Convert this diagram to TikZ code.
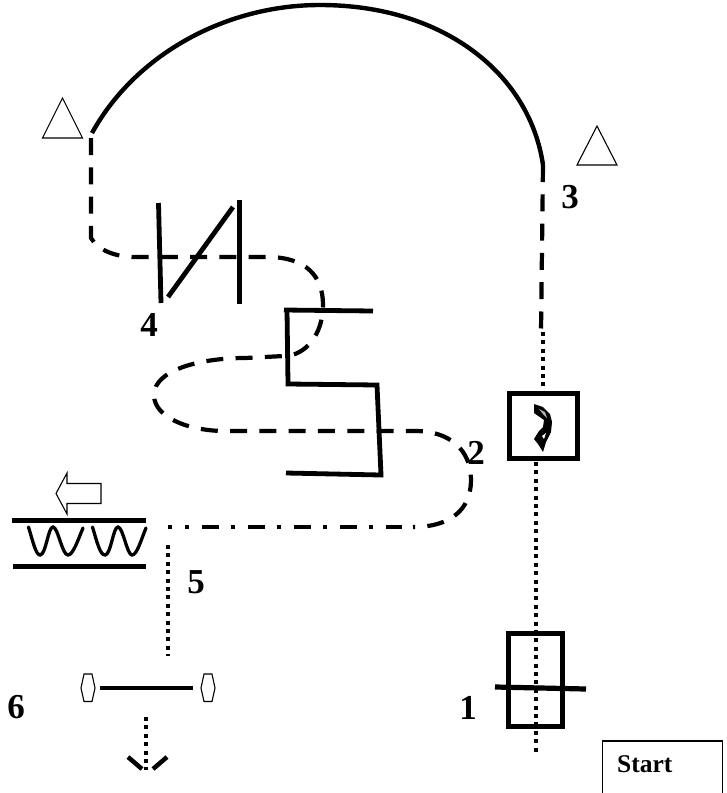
\documentclass[tikz,border=0pt]{standalone}
\usepackage{fontspec}
\setmainfont{Liberation Serif}
\tikzset{
  bar line/.style={line width=4.8pt},
  dash line/.style={line width=4.2pt,dash pattern=on 17pt off 12.3pt},
  dash dot line/.style={line width=4pt,dash pattern=on 17pt off 11.5pt on 4pt off 13.5pt},
  dot line/.style={line width=4pt,dash pattern=on 4pt off 4.4pt},
  thin shape/.style={draw,line width=1.1pt,fill=white},
  lab/.style={font=\bfseries\fontsize{35}{35}\selectfont,inner sep=0pt},
}
\begin{document}
\begin{tikzpicture}[x=1pt,y=-1pt]
\useasboundingbox (0,0) rectangle (727,793);
% dotted verticals
\coordinate (dotA) at (542.5,332);
\coordinate (dotB) at (536,755);
\draw[dot line] (dotA) -- (542.5,392);
\draw[dot line] (536,462) -- (dotB);
\draw[dot line] (168,545) -- (168,656);
\draw[dot line] (146,717) -- (146,770);
% top arc
\coordinate (arcL) at (92,133);
\coordinate (arcR) at (543,165);
\draw[line width=4.4pt] (arcL) .. controls (135,55) and (225,5) .. (320,5)
   .. controls (445,5) and (530,75) .. (arcR);
% dashed lines
\draw[dash line] (arcR) -- (541,332);
\draw[dash line] (91,138) -- (91,238) .. controls (98,250) and (115,257) .. (135,257)
  -- (270,257) .. controls (305,258) and (323,275) .. (323,305)
  .. controls (323,335) and (305,356) .. (284,356)
  -- (245,358) .. controls (200,358) and (154,370) .. (154,395)
  .. controls (154,418) and (190,431) .. (225,431)
  -- (415,431) .. controls (450,431) and (471,450) .. (471,480)
  .. controls (471,510) and (450,527) .. (413,527);
\draw[dash dot line] (202,527) -- (402,527);
\draw[line width=4pt] (168,527) -- (172,527);
\draw[line width=4pt] (185,527) -- (189,527);
% valve at 4
\draw[bar line] (158.5,203) -- (161,303);
\draw[bar line] (239.5,200) -- (239.5,304);
\draw[bar line] (233,207) -- (168,297);
% S shape
\draw[bar line] (373,311) -- (284,310);
\draw[bar line,line join=miter] (287,310) -- (288,384) -- (377,385) -- (381,475) -- (286,473);
% boxes
\node[draw,line width=5pt,minimum width=68pt,minimum height=65pt,inner sep=0pt,outer sep=0pt] (valve) at (543,426) {};
\fill[black] (534,404) -- (543,407) -- (550,414) -- (552,422) -- (551,432) -- (546,442) -- (543,452) -- (538,444) -- (534,439) -- (539,431) -- (543,427) -- (544,420) -- (534,413) -- cycle;
\fill[gray!60] (539,409) -- (545,412) -- (547,418) -- (543,414) -- cycle;
\fill[white] (542,436) -- (546,433) -- (544,439) -- cycle;
\node[draw,line width=5pt,minimum width=54pt,minimum height=93pt,inner sep=0pt,outer sep=0pt] (pump) at (535.5,680) {};
\draw[line width=5.2pt] (495,687) -- (586,689);
% heat exchanger
\draw[line width=5pt] (12,520) -- (146,520);
\draw[line width=5pt] (13,566) -- (146,566);
\draw[line width=3.3pt,line cap=round] (28.5,527) .. controls (33,542) and (36,555) .. (40,555)
  .. controls (46,555) and (48,527) .. (53,527) .. controls (58,527) and (62,555) .. (68,555)
  .. controls (73,555) and (78,540) .. (83,528);
\draw[line width=3.3pt,line cap=round] (92.5,527) .. controls (97,542) and (100,555) .. (105,555)
  .. controls (111,555) and (113,527) .. (118,527) .. controls (123,527) and (127,555) .. (132,555)
  .. controls (137,555) and (141,540) .. (146,528);
% hollow arrow
\draw[line width=1.1pt] (101,483.5) -- (67,483.5) -- (67,473) -- (56,493.5) -- (67,514) -- (67,503.5) -- (101,503.5) -- cycle;
% bottom left element
\draw[line width=4.5pt] (100,688) -- (193,688);
\draw[line width=1.1pt] (84,674) -- (92,674) -- (95,688) -- (92,701.5) -- (84,701.5) -- (81,688) -- cycle;
\draw[line width=1.1pt] (204,674) -- (212,674) -- (215,688) -- (212,701.5) -- (204,701.5) -- (201,688) -- cycle;
\draw[line width=4.5pt] (128,757) -- (142,769);
\draw[line width=4.5pt] (167,757) -- (153,769);
% triangles
\draw[line width=1.1pt] (62.5,98) -- (82.5,138) -- (42.5,138) -- cycle;
\draw[line width=1.1pt] (597,126) -- (617,165) -- (577,165) -- cycle;
% labels
\node[lab] (n1) at (468,708) {1};
\node[lab] (n2) at (476,453) {2};
\node[lab] (n3) at (570,197) {3};
\node[lab] (n4) at (149,325) {4};
\node[lab] (n5) at (196,582) {5};
\node[lab] (n6) at (16,707) {6};
\node[draw,line width=1.3pt,minimum width=120pt,minimum height=60pt,inner sep=0pt,outer sep=0pt] (start) at (662.5,771) {};
\node[font=\bfseries\fontsize{25.5}{25.5}\selectfont,inner sep=0pt,anchor=west] (startlab) at (617,764) {Start};
\end{tikzpicture}
\end{document}
